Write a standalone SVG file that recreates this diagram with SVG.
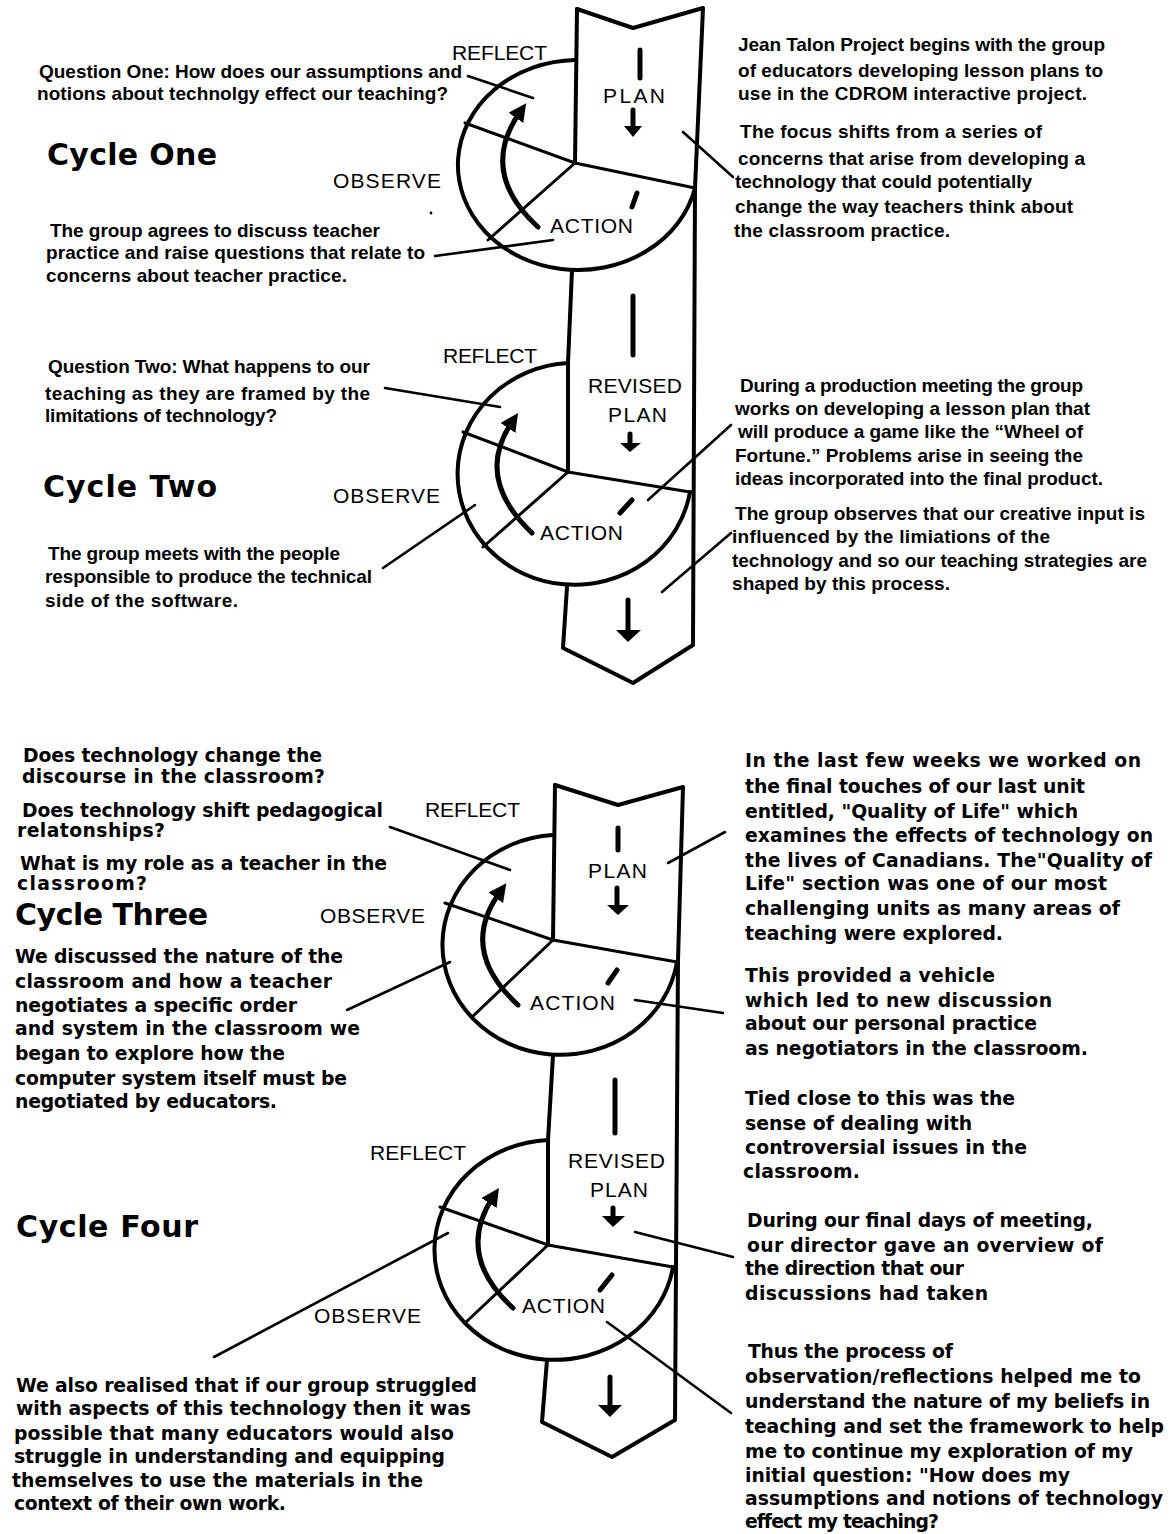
<svg xmlns="http://www.w3.org/2000/svg" width="1171" height="1534" viewBox="0 0 1171 1534">
<defs>
<style>
.bg{fill:#fff}
.ol{fill:none;stroke:#000;stroke-width:4;stroke-linejoin:round;stroke-linecap:round}
.ln{fill:none;stroke:#000;stroke-width:3;stroke-linecap:round}
.cv{fill:none;stroke:#000;stroke-width:5;stroke-linecap:round}
.bar{stroke:#000;stroke-width:5;stroke-linecap:round}
.hd{fill:#000}
.pt{fill:none;stroke:#000;stroke-width:2.6;stroke-linecap:round}
.lb{font-family:"Liberation Sans",Arial,sans-serif;font-size:21px;fill:#000}
.hh{font-family:"DejaVu Sans",sans-serif;font-weight:bold;font-size:30px;fill:#000}
.tu{font-family:"Liberation Sans",Arial,sans-serif;font-weight:bold;font-size:19px;fill:#000}
.tl{font-family:"DejaVu Sans",sans-serif;font-weight:bold;font-size:18.8px;fill:#000}
</style>
<marker id="ah" viewBox="0 0 10 10" refX="4" refY="5" markerWidth="3.6" markerHeight="3.6" orient="auto" markerUnits="strokeWidth">
<path d="M0,0 L10,5 L0,10 z" fill="#000"/>
</marker>
</defs>
<rect class="bg" x="0" y="0" width="1171" height="1534"/>

<g id="column-top">
<path class="ol" d="M577,9 L633,28 L703,8 L695,188 L693,645 L633,683 L563,648 L567,587"/>
<path class="ol" d="M577,9 L575,163"/>
<path class="ol" d="M572,270 L568,363"/>
<path class="ol" d="M568,363 L568,472"/>
</g>

<g id="column-bottom">
<path class="ol" d="M555,785 L618,805 L683,787 L678,960 L675,1420 L612,1457 L542,1422 L547,1360"/>
<path class="ol" d="M555,785 L553,940"/>
<path class="ol" d="M553,1055 L548,1140"/>
<path class="ol" d="M548,1140 L548,1245"/>
</g>

<g id="cycle1-wheel">
<path class="ol" d="M575,60 A120,105 0 1,0 695,188"/>
<path class="ln" d="M465,123 L575,163 L695,188 M575,163 L488,240"/>
<path class="cv" d="M538,227 Q478,172 520,112" marker-end="url(#ah)"/>
<path class="bar" d="M637,193 L632,207"/>
<path class="bar" d="M640,50 L640,78"/>
<path class="bar" d="M633,110 L633,128"/>
<polygon class="hd" points="624,126 642,126 633,137"/>
<path class="bar" d="M633,296 L633,355"/>
<circle class="hd" cx="431" cy="213" r="1.4"/>
<text class="lb" x="452" y="60" textLength="95">REFLECT</text>
<text class="lb" x="603" y="103" textLength="62">PLAN</text>
<text class="lb" x="550" y="233" textLength="83">ACTION</text>
<text class="lb" x="333" y="188" textLength="108">OBSERVE</text>
</g>

<g id="cycle2-wheel">
<path class="ol" d="M568,363 A117,111 0 1,0 690,492"/>
<path class="ln" d="M463,432 L568,472 L690,492 M568,472 L483,547"/>
<path class="cv" d="M532,533 Q474,478 512,422" marker-end="url(#ah)"/>
<path class="bar" d="M632,500 L620,513"/>
<path class="bar" d="M630,434 L630,445"/>
<polygon class="hd" points="620,443 641,443 630,452"/>
<path class="bar" d="M628,600 L628,632"/>
<polygon class="hd" points="616,630 641,630 628,642"/>
<text class="lb" x="443" y="363" textLength="94">REFLECT</text>
<text class="lb" x="588" y="393" textLength="94">REVISED</text>
<text class="lb" x="608" y="422" textLength="59">PLAN</text>
<text class="lb" x="540" y="540" textLength="83">ACTION</text>
<text class="lb" x="333" y="503" textLength="107">OBSERVE</text>
</g>

<g id="cycle3-wheel">
<path class="ol" d="M553,835 A118,110 0 1,0 677,962"/>
<path class="ln" d="M445,903 L553,940 L677,962 M553,940 L472,1017"/>
<path class="cv" d="M518,1005 Q458,950 500,892" marker-end="url(#ah)"/>
<path class="bar" d="M617,970 L608,983"/>
<path class="bar" d="M618,828 L618,850"/>
<path class="bar" d="M617,888 L617,907"/>
<polygon class="hd" points="607,905 629,905 618,915"/>
<path class="bar" d="M615,1080 L615,1133"/>
<text class="lb" x="425" y="817" textLength="95">REFLECT</text>
<text class="lb" x="588" y="878" textLength="59">PLAN</text>
<text class="lb" x="320" y="923" textLength="105">OBSERVE</text>
<text class="lb" x="530" y="1010" textLength="85">ACTION</text>
</g>

<g id="cycle4-wheel">
<path class="ol" d="M548,1140 A120,110 0 1,0 673,1267"/>
<path class="ln" d="M440,1207 L548,1245 L673,1267 M548,1245 L465,1323"/>
<path class="cv" d="M513,1308 Q455,1255 493,1197" marker-end="url(#ah)"/>
<path class="bar" d="M612,1275 L600,1290"/>
<path class="bar" d="M613,1208 L613,1218"/>
<polygon class="hd" points="602,1216 625,1216 613,1227"/>
<path class="bar" d="M610,1377 L610,1407"/>
<polygon class="hd" points="598,1405 622,1405 610,1417"/>
<text class="lb" x="370" y="1160" textLength="96">REFLECT</text>
<text class="lb" x="568" y="1168" textLength="97">REVISED</text>
<text class="lb" x="590" y="1197" textLength="58">PLAN</text>
<text class="lb" x="522" y="1313" textLength="83">ACTION</text>
<text class="lb" x="314" y="1323" textLength="107">OBSERVE</text>
</g>

<g id="headings">
<text class="hh" x="47" y="165" textLength="170">Cycle One</text>
<text class="hh" x="43" y="497" textLength="174">Cycle Two</text>
<text class="hh" x="15" y="925" textLength="193">Cycle Three</text>
<text class="hh" x="16" y="1237" textLength="182">Cycle Four</text>
</g>

<g id="note-q1">
<text class="tu" x="39" y="78" textLength="423">Question One: How does our assumptions and</text>
<text class="tu" x="37" y="100" textLength="411">notions about technolgy effect our teaching?</text>
</g>
<g id="note-c1-observe">
<text class="tu" x="50" y="237" textLength="330">The group agrees to discuss teacher</text>
<text class="tu" x="46" y="259" textLength="379">practice and raise questions that relate to</text>
<text class="tu" x="46" y="282" textLength="301">concerns about teacher practice.</text>
</g>
<g id="note-c1-right">
<text class="tu" x="738" y="51" textLength="367">Jean Talon Project begins with the group</text>
<text class="tu" x="738" y="77" textLength="365">of educators developing lesson plans to</text>
<text class="tu" x="738" y="100" textLength="349">use in the CDROM interactive project.</text>
<text class="tu" x="740" y="138" textLength="302">The focus shifts from a series of</text>
<text class="tu" x="738" y="165" textLength="347">concerns that arise from developing a</text>
<text class="tu" x="735" y="188" textLength="297">technology that could potentially</text>
<text class="tu" x="735" y="213" textLength="338">change the way teachers think about</text>
<text class="tu" x="734" y="237" textLength="216">the classroom practice.</text>
</g>
<g id="note-q2">
<text class="tu" x="48" y="373" textLength="322">Question Two: What happens to our</text>
<text class="tu" x="45" y="400" textLength="325">teaching as they are framed by the</text>
<text class="tu" x="45" y="422" textLength="232">limitations of technology?</text>
</g>
<g id="note-c2-observe">
<text class="tu" x="48" y="560" textLength="292">The group meets with the people</text>
<text class="tu" x="45" y="583" textLength="327">responsible to produce the technical</text>
<text class="tu" x="45" y="607" textLength="193">side of the software.</text>
</g>
<g id="note-c2-right">
<text class="tu" x="740" y="392" textLength="343">During a production meeting the group</text>
<text class="tu" x="735" y="415" textLength="355">works on developing a lesson plan that</text>
<text class="tu" x="738" y="438" textLength="345">will produce a game like the “Wheel of</text>
<text class="tu" x="735" y="462" textLength="348">Fortune.” Problems arise in seeing the</text>
<text class="tu" x="735" y="485" textLength="368">ideas incorporated into the final product.</text>
<text class="tu" x="735" y="520" textLength="410">The group observes that our creative input is</text>
<text class="tu" x="732" y="543" textLength="318">influenced  by the limiations of the</text>
<text class="tu" x="732" y="567" textLength="415">technology and so our teaching strategies are</text>
<text class="tu" x="732" y="590" textLength="218">shaped by this process.</text>
</g>
<g id="note-q3">
<text class="tl" x="23" y="762" textLength="299">Does technology change the</text>
<text class="tl" x="22" y="783" textLength="303">discourse in the classroom?</text>
<text class="tl" x="22" y="817" textLength="361">Does technology shift pedagogical</text>
<text class="tl" x="17" y="837" textLength="148">relatonships?</text>
<text class="tl" x="20" y="870" textLength="367">What is my role as a teacher in the</text>
<text class="tl" x="17" y="890" textLength="130">classroom?</text>
</g>
<g id="note-c3-observe">
<text class="tl" x="15" y="963" textLength="328">We discussed the nature of the</text>
<text class="tl" x="15" y="988" textLength="317">classroom and how a teacher</text>
<text class="tl" x="15" y="1012" textLength="282">negotiates a specific order</text>
<text class="tl" x="15" y="1035" textLength="345">and system in the classroom we</text>
<text class="tl" x="15" y="1060" textLength="270">began to explore how the</text>
<text class="tl" x="15" y="1085" textLength="332">computer system itself must be</text>
<text class="tl" x="15" y="1108" textLength="262">negotiated by educators.</text>
</g>
<g id="note-c3-right">
<text class="tl" x="745" y="767" textLength="396">In the last few weeks we worked on</text>
<text class="tl" x="745" y="793" textLength="340">the final touches of our last unit</text>
<text class="tl" x="745" y="818" textLength="333">entitled, "Quality of Life" which</text>
<text class="tl" x="745" y="842" textLength="408">examines the effects of technology on</text>
<text class="tl" x="745" y="867" textLength="407">the lives of Canadians. The"Quality of</text>
<text class="tl" x="745" y="890" textLength="362">Life" section was one of our most</text>
<text class="tl" x="745" y="915" textLength="375">challenging units as many areas of</text>
<text class="tl" x="745" y="940" textLength="258">teaching were explored.</text>
<text class="tl" x="745" y="982" textLength="250">This provided a vehicle</text>
<text class="tl" x="745" y="1007" textLength="307">which led to new discussion</text>
<text class="tl" x="745" y="1030" textLength="292">about our personal practice</text>
<text class="tl" x="745" y="1055" textLength="343">as negotiators in the classroom.</text>
<text class="tl" x="745" y="1105" textLength="270">Tied close to this was the</text>
<text class="tl" x="745" y="1130" textLength="227">sense of dealing with</text>
<text class="tl" x="745" y="1154" textLength="282">controversial issues in the</text>
<text class="tl" x="743" y="1178" textLength="117">classroom.</text>
</g>
<g id="note-c4-right">
<text class="tl" x="747" y="1227" textLength="346">During our final days of meeting,</text>
<text class="tl" x="747" y="1252" textLength="356">our director gave an overview of</text>
<text class="tl" x="745" y="1275" textLength="219">the direction that our</text>
<text class="tl" x="745" y="1300" textLength="243">discussions had taken</text>
<text class="tl" x="748" y="1358" textLength="205">Thus the process of</text>
<text class="tl" x="745" y="1383" textLength="396">observation/reflections helped me to</text>
<text class="tl" x="745" y="1408" textLength="405">understand the nature of my beliefs in</text>
<text class="tl" x="745" y="1433" textLength="419">teaching and set the framework to help</text>
<text class="tl" x="745" y="1458" textLength="388">me to continue my exploration of my</text>
<text class="tl" x="745" y="1482" textLength="325">initial question: "How does my</text>
<text class="tl" x="745" y="1505" textLength="418">assumptions and notions of technology</text>
<text class="tl" x="745" y="1528" textLength="194">effect my teaching?</text>
</g>
<g id="note-c4-observe">
<text class="tl" x="16" y="1392" textLength="461">We also realised that if our group struggled</text>
<text class="tl" x="16" y="1415" textLength="455">with aspects of this technology then it was</text>
<text class="tl" x="14" y="1440" textLength="440">possible that many educators would also</text>
<text class="tl" x="14" y="1463" textLength="431">struggle in understanding and equipping</text>
<text class="tl" x="12" y="1487" textLength="411">themselves to use the materials in the</text>
<text class="tl" x="14" y="1510" textLength="272">context of their own work.</text>
</g>

<g id="connectors">
<path class="pt" d="M468,76 L533,98"/>
<path class="pt" d="M435,256 L553,240"/>
<path class="pt" d="M683,132 L733,177"/>
<path class="pt" d="M385,388 L500,407"/>
<path class="pt" d="M383,568 L475,505"/>
<path class="pt" d="M731,425 L648,500"/>
<path class="pt" d="M731,533 L662,592"/>
<path class="pt" d="M390,827 L510,870"/>
<path class="pt" d="M347,1010 L450,962"/>
<path class="pt" d="M725,832 L668,863"/>
<path class="pt" d="M635,1000 L723,1013"/>
<path class="pt" d="M214,1357 L448,1233"/>
<path class="pt" d="M635,1232 L733,1257"/>
<path class="pt" d="M607,1322 L731,1413"/>
</g>
</svg>
